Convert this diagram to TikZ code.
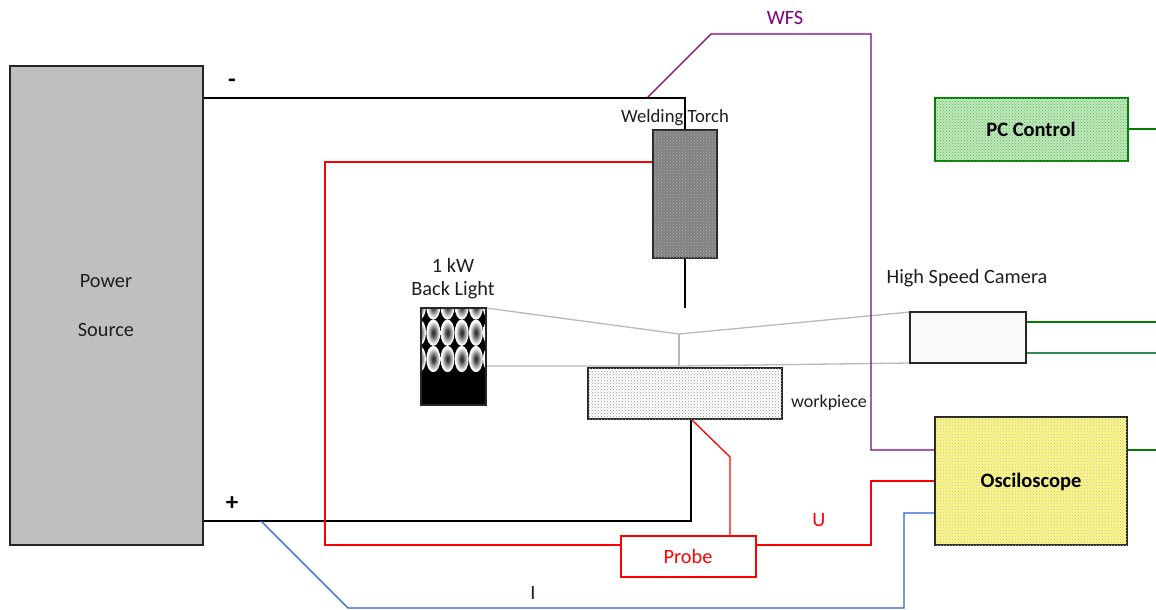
\documentclass[tikz,border=0pt]{standalone}
\usepackage{fontspec}
\setmainfont{Carlito}
\usetikzlibrary{patterns}
\definecolor{wfsc}{RGB}{128,0,128}
\definecolor{redc}{RGB}{255,0,0}
\definecolor{bluec}{RGB}{45,95,220}
\definecolor{greenc}{RGB}{0,128,0}
\definecolor{greenl}{RGB}{50,140,90}
\definecolor{grayl}{RGB}{185,185,185}
\definecolor{txt}{RGB}{30,30,30}
\pgfdeclareradialshading{lampglow}{\pgfpoint{0bp}{0bp}}{%
  color(0bp)=(black!85);
  color(6bp)=(black!70);
  color(14bp)=(black!35);
  color(22bp)=(white);
  color(50bp)=(white)}
\tikzset{
  x=1pt,y=-1pt,
  boxn/.style={draw=#1,line width=1.3pt,inner sep=0pt,outer sep=0pt,anchor=north west,text=black},
  boxn/.default=black!85,
  lab/.style={inner sep=0pt,outer sep=0pt,text=txt,font=\fontsize{20.3}{24}\selectfont},
  boldlab/.style={lab,text=black,font=\bfseries\fontsize{20.5}{24}\selectfont},
  signlab/.style={lab,text=black,font=\bfseries\fontsize{25}{28}\selectfont},
  wire/.style={line width=1.3pt,line join=miter},
  blk/.style={wire,draw=black},
  rd/.style={wire,draw=redc},
  blu/.style={wire,draw=bluec},
  prp/.style={wire,draw=wfsc},
  grn/.style={wire,draw=greenc},
  gry/.style={wire,draw=grayl},
}
\begin{document}
\begin{tikzpicture}
\useasboundingbox (0,0) rectangle (1156,610);
% free ends and bends
\coordinate (rodEnd) at (685,308);
\coordinate (mt) at (647,98);
\coordinate (m1) at (711,34);
\coordinate (m2) at (871,34);
\coordinate (oscP) at (935,450);
\coordinate (oscU) at (935,481);
\coordinate (oscI) at (935,513);
\coordinate (bt) at (261,521);
\coordinate (b1) at (348,608);
\coordinate (b2) at (904,608);
\coordinate (r1) at (325,162);
\coordinate (r2) at (871,481);
\coordinate (wpB) at (691,419);
\coordinate (pr) at (730,457);
\coordinate (g0) at (1156,129);
\coordinate (g1a) at (1026,322);
\coordinate (g1b) at (1156,322);
\coordinate (g2a) at (1026,353);
\coordinate (g2b) at (1156,353);
\coordinate (g3) at (1156,450);
\coordinate (g0a) at (1128,129);
\coordinate (g3a) at (1127,450);
\coordinate (cT) at (679,334);
\coordinate (cB) at (679,366);
\coordinate (blT) at (486,308);
\coordinate (blB) at (486,366);
\coordinate (camT) at (910,312);
\coordinate (camB) at (910,363);
\coordinate (psM) at (203,98);
\coordinate (psP) at (203,521);
\coordinate (tT) at (685,130);
\coordinate (tL) at (653,162);
\coordinate (tB) at (685,258);
\coordinate (pW) at (621,545);
\coordinate (pE) at (756,545);
\coordinate (pT) at (730,536);

% wires
\draw[gry] (blT) -- (cT) -- (camT);
\draw[gry] (blB) -- (cB) -- (camB);
\draw[gry] (cT) -- (cB);
\draw[blk] (psM) -| (tT);
\draw[blk] (tB) -- (rodEnd);
\draw[blk] (psP) -| (wpB);
\draw[rd] (tL) -- (r1) |- (pW);
\draw[rd] (pE) -| (r2) -- (oscU);
\draw[rd] (wpB) -- (pr) -- (pT);
\draw[blu] (bt) -- (b1) -- (b2) |- (oscI);
\draw[prp] (mt) -- (m1) -- (m2) |- (oscP);
\draw[grn] (g0a) -- (g0);
\draw[grn] (g1a) -- (g1b);
\draw[wire,draw=greenl] (g2a) -- (g2b);
\draw[grn] (g3a) -- (g3);

% boxes
\node[boxn,fill={rgb,255:red,191;green,191;blue,191},minimum width=193pt,minimum height=479pt] (power) at (10,66) {};
\node[boxn,fill={rgb,255:red,128;green,128;blue,128},minimum width=64pt,minimum height=128pt,
  postaction={pattern=crosshatch dots,pattern color=black!30}] (torch) at (653,130) {};
\node[boxn,fill=white,minimum width=194pt,minimum height=51pt,
  postaction={pattern=crosshatch dots,pattern color=black!40}] (work) at (588,368) {};
\node[boxn=greenc,fill={rgb,255:red,190;green,232;blue,185},minimum width=193pt,minimum height=63pt,
  postaction={pattern=crosshatch dots,pattern color=green!50!black!60}] (pc) at (935,98) {};
\node[boxn,fill={rgb,255:red,250;green,250;blue,250},minimum width=116pt,minimum height=51pt] (cam) at (910,312) {};
\node[boxn,fill={rgb,255:red,252;green,248;blue,130},minimum width=192pt,minimum height=128pt,
  postaction={pattern=crosshatch dots,pattern color=black!25}] (osc) at (935,417) {};
\node[boxn=redc,fill=white,minimum width=135pt,minimum height=41pt] (probe) at (621,536) {};

% back light
\begin{scope}
  \clip (421,308) rectangle (486,405);
  \fill[black] (421,308) rectangle (486,405);
  \begin{scope}
    \clip (421,308) rectangle (486,371);
    \foreach \cy in {306.5,332.7,359}
      \foreach \cx in {419,433.3,447.5,461.7,475.9,490}
        \shade[shading=lampglow] (\cx,\cy) ellipse [x radius=7,y radius=13.2];
  \end{scope}
\end{scope}
\node[boxn,minimum width=65pt,minimum height=97pt] (light) at (421,308) {};

% labels
\node[lab] (lpow) at (106,281) {Power};
\node[lab] (lsrc) at (106,330) {Source};
\node[signlab] (lminus) at (232,83) {-};
\node[signlab] (lplus) at (232,504) {+};
\node[lab,text=wfsc] (lwfs) at (785,18) {WFS};
\node[lab,font=\fontsize{18.7}{22}\selectfont] (lweld) at (675,118) {Welding Torch};
\node[lab] (l1kw) at (453,265) {1 kW};
\node[lab] (lback) at (453,290) {Back Light};
\node[lab] (lcam) at (967,278) {High Speed Camera};
\node[lab,font=\fontsize{18}{21}\selectfont] (lwork) at (829,403) {workpiece};
\node[boldlab] (lpc) at (1031,129.5) {PC Control};
\node[boldlab] (losc) at (1031,481.5) {Osciloscope};
\node[lab,text=redc] (lu) at (819,520) {U};
\node[lab,text=redc] (lprobe) at (688,557) {Probe};
\node[lab] (li) at (533,593) {I};
\end{tikzpicture}
\end{document}
